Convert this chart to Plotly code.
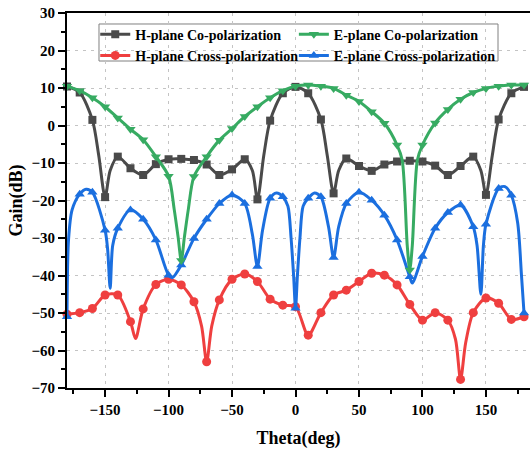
import plotly.graph_objects as go

# ---------------- data ----------------
theta = list(range(-180, 181, 10))

h_co = [10.4, 8.8, 1.5, -19.1, -8.3, -11.4, -13.2, -10.3, -9.0, -8.9, -9.2, -10.4,
        -13.2, -11.7, -9.0, -19.7, 1.3, 8.6, 10.3, 8.6, 1.6, -18.1, -8.8, -10.8,
        -12.1, -10.4, -9.6, -9.4, -9.6, -10.7, -13.2, -10.8, -8.3, -18.5, 1.6, 8.6, 10.3]
h_co_extra_theta = [-155, -146, -34, -25, 25, 34, 146, 155]
h_co_extra = [-8.0, -12.0, -12.0, -8.0, -8.0, -12.0, -12.0, -8.0]

h_cross = [-50.3, -49.9, -48.8, -45.2, -45.2, -52.3, -48.9, -42.4, -41.0, -42.5, -47.0, -63.0,
           -46.5, -41.0, -39.6, -41.6, -46.3, -47.9, -48.3, -55.9, -49.9, -45.2, -43.9, -41.6,
           -39.4, -39.9, -42.5, -47.7, -51.9, -49.9, -51.9, -67.7, -49.9, -46.0, -47.4, -51.7, -51.0]
h_cross_extra_theta = [-126, -74, -66, 126, 134]
h_cross_extra = [-56.8, -53.5, -53.5, -57.0, -58.0]

e_co = [10.5, 9.3, 7.4, 5.0, 2.0, -1.0, -3.8, -8.3, -13.5, -36.0, -13.6, -8.3,
        -3.9, -0.8, 2.4, 5.0, 7.4, 9.3, 10.5, 10.8, 10.5, 9.9, 8.1, 6.4,
        3.7, 0.6, -5.2, -38.5, -5.2, 0.7, 4.3, 7.0, 8.8, 9.9, 10.5, 10.8, 10.8]
e_co_extra_theta = [-95.5, -92.5, -87.5, -84.5, 84, 88, 92, 96]
e_co_extra = [-22.5, -29.7, -29.7, -22.5, -9.2, -32.0, -32.0, -9.2]

e_cross = [-51.0, -18.3, -17.8, -27.9, -27.4, -22.5, -25.0, -30.5, -39.9, -37.2, -30.1, -25.0,
           -20.8, -18.5, -20.8, -37.6, -19.4, -19.0, -48.7, -19.4, -19.0, -35.2, -20.8, -17.8,
           -19.9, -23.9, -30.5, -40.3, -34.9, -27.4, -23.2, -21.2, -27.0, -26.3, -16.8, -18.6, -50.0]
e_cross_extra_theta = [-178.8, -176, -165, -148, -146, -144, -97, -34, -26, -15, -6, -3.5, -1.5,
                       1.5, 3.5, 6, 15, 26, 34, 92, 143, 146, 148, 165, 175, 178]
e_cross_extra = [-30.5, -22.5, -17.0, -33.0, -43.4, -32.0, -40.6, -29.0, -28.0, -18.0, -21.5, -30.0, -40.0,
                 -40.0, -30.0, -21.5, -18.0, -27.0, -27.0, -42.0, -32.0, -45.0, -32.0, -16.3, -26.0, -40.0]

names = ["H-plane Co-polarization", "E-plane Co-polarization",
         "H-plane Cross-polarization", "E-plane Cross-polarization"]

# ---------------- styling ----------------
C_BLACK = "#4a4a4a"
C_RED = "#ef3f3f"
C_GREEN = "#37ab62"
C_BLUE = "#1b6fdf"

FONT = "Liberation Serif, Times New Roman, serif"


def merged(xs, ys, ex, ey):
    pts = sorted(list(zip(xs, ys)) + list(zip(ex, ey)))
    return [p[0] for p in pts], [p[1] for p in pts]


series = [
    (names[0], h_co, h_co_extra_theta, h_co_extra, C_BLACK, "square", 8),
    (names[2], h_cross, h_cross_extra_theta, h_cross_extra, C_RED, "circle", 9),
    (names[3], e_cross, e_cross_extra_theta, e_cross_extra, C_BLUE, "triangle-up", 9),
    (names[1], e_co, e_co_extra_theta, e_co_extra, C_GREEN, "triangle-down", 9),
]

fig = go.Figure()

# legend entries: left column (legend) and right column (legend2)
legend_cols = [(names[0], "legend"), (names[2], "legend"),
               (names[1], "legend2"), (names[3], "legend2")]
style = {s[0]: s for s in series}
for nm, lg in legend_cols:
    _, _, _, _, col, sym, sz = style[nm]
    fig.add_trace(go.Scatter(x=[None], y=[None], mode="lines+markers", name=nm,
                             line=dict(color=col, width=3),
                             marker=dict(symbol=sym, size=sz, color=col),
                             showlegend=True, legend=lg))

for nm, vals, ex, ey, col, sym, sz in series:
    lx, ly = merged(theta, vals, ex, ey)
    fig.add_trace(go.Scatter(x=lx, y=ly, mode="lines", showlegend=False,
                             line=dict(color=col, width=3, shape="spline", smoothing=0.8),
                             hoverinfo="skip"))
    fig.add_trace(go.Scatter(x=theta, y=vals, mode="markers", showlegend=False,
                             marker=dict(symbol=sym, size=sz, color=col),
                             cliponaxis=False))

axis_common = dict(
    showline=True, linecolor="black", linewidth=2,
    ticks="outside", tickcolor="black", tickwidth=1.5, ticklen=7,
    showgrid=True, gridcolor="#c4c4c4", gridwidth=1, griddash="3px,5px",
    zeroline=False,
    tickfont=dict(family=FONT, size=15, color="black", weight="bold"),
)

# legend frame (paper coordinates)
fig.add_shape(type="rect", xref="paper", yref="paper",
              x0=0.0691, x1=0.9309, y0=0.872, y1=0.9707,
              line=dict(color="#808080", width=1), fillcolor="white", layer="between")

legend_common = dict(orientation="v", y=0.985, xanchor="left", yanchor="top",
                     bgcolor="rgba(0,0,0,0)", borderwidth=0, tracegroupgap=0, itemwidth=30,
                     font=dict(family=FONT, size=14, color="black", weight="bold"))

fig.update_layout(
    width=530, height=449,
    margin=dict(l=67, r=0, t=13, b=61, autoexpand=False),
    paper_bgcolor="white", plot_bgcolor="white",
    xaxis=dict(range=[-180, 184.7], tick0=0, dtick=50, mirror=True,
               minor=dict(dtick=25, ticks="outside", ticklen=4, tickcolor="black", tickwidth=1.5, showgrid=False),
               title=dict(text="Theta(deg)", font=dict(family=FONT, size=18, color="black", weight="bold"),
                          standoff=17),
               **axis_common),
    yaxis=dict(range=[-70, 30], tick0=0, dtick=10, mirror=False,
               minor=dict(dtick=5, ticks="outside", ticklen=4, tickcolor="black", tickwidth=1.5, showgrid=False),
               title=dict(text="Gain(dB)", font=dict(family=FONT, size=18, color="black", weight="bold"),
                          standoff=4),
               **axis_common),
    legend=dict(x=0.061, **legend_common),
    legend2=dict(x=0.49, **legend_common),
    showlegend=True,
)

fig.write_html("out.html", config={"displayModeBar": False},
               post_script="document.body.style.margin='0px';document.body.style.overflow='hidden';")
